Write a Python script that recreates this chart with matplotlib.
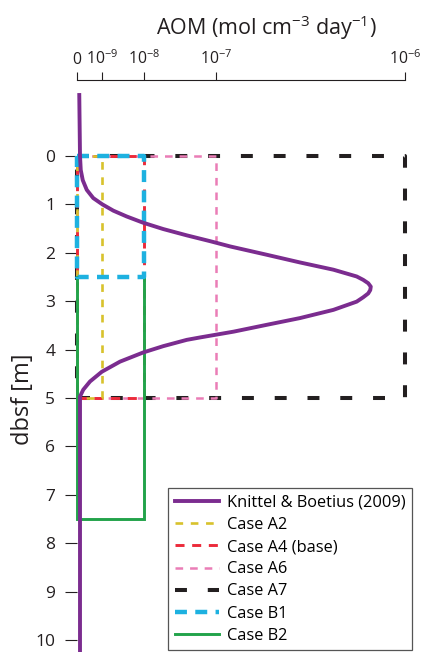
import numpy as np
import matplotlib
matplotlib.use("Agg")
import matplotlib.pyplot as plt
from matplotlib.lines import Line2D

plt.rcParams['font.family'] = ['Open Sans', 'DejaVu Sans']
plt.rcParams['mathtext.default'] = 'regular'
plt.rcParams['lines.scale_dashes'] = False

## data
# Knittel & Boetius (2009) profile: depth [m] and AOM rate
knittel_depth = [-1.3, 0.0, 0.29, 0.5, 0.70, 0.87, 1.0, 1.13, 1.25, 1.38, 1.51, 1.64,
                 1.76, 1.87, 2.04, 2.20, 2.35, 2.49, 2.56, 2.63, 2.70, 2.77, 2.84,
                 2.92, 3.01, 3.18, 3.35, 3.49, 3.63, 3.75, 3.80, 3.93, 4.06, 4.25,
                 4.46, 4.66, 4.83, 4.97, 10.3]
knittel_aom = [9e-11, 1.2e-10, 1.5e-10, 2.3e-10, 3.9e-10, 6.5e-10, 1.02e-9, 1.86e-9,
               3.87e-9, 9.6e-9, 1.85e-8, 3.92e-8, 8.26e-8, 1.19e-7, 1.85e-7, 2.78e-7,
               4.18e-7, 5.55e-7, 6.01e-7, 6.39e-7, 6.59e-7, 6.55e-7, 6.39e-7,
               6.01e-7, 5.55e-7, 4.18e-7, 2.78e-7, 1.85e-7, 1.24e-7, 6.0e-8, 3.92e-8,
               1.85e-8, 9.6e-9, 2.68e-9, 9.9e-10, 5.2e-10, 2.5e-10, 1.2e-10, 1.2e-10]

# constant-rate cases: rate, top and bottom of the AOM zone
case_labels = ['Case A2', 'Case A4 (base)', 'Case A6', 'Case A7', 'Case B1', 'Case B2']
case_rate = [1e-9, 1e-8, 1e-7, 1e-6, 1e-8, 1e-8]
case_top = [0, 0, 0, 0, 0, 2.5]
case_bottom = [5, 5, 5, 5, 2.5, 7.5]

xtick_vals = [0, 1e-9, 1e-8, 1e-7, 1e-6]
xtick_labels = ['0', '$10^{-9}$', '$10^{-8}$', '$10^{-7}$', '$10^{-6}$']
ytick_vals = list(range(0, 11))

## axis: linear from 0 to 1e-9, then uneven log segments (as in the original)
seg_log = [-9, -8, -7, -6]
seg_pos = [25, 67, 139, 328]

def fwd(x):
    x = np.asarray(x, dtype=float)
    lg = np.log10(np.maximum(x, 1e-30))
    return np.where(x <= 1e-9, x / 1e-9 * seg_pos[0], np.interp(lg, seg_log, seg_pos))

def inv(p):
    p = np.asarray(p, dtype=float)
    return np.where(p <= seg_pos[0], p / seg_pos[0] * 1e-9,
                    10 ** np.interp(p, seg_pos, seg_log))

# line styles (dashes in points)
styles = {
    'Case A2': dict(color='#d8c22c', lw=1.9, dashes=(5.5, 5.5)),
    'Case A4 (base)': dict(color='#ec2a3a', lw=2.1, dashes=(6.5, 5.5)),
    'Case A6': dict(color='#ea7db6', lw=1.8, dashes=(5.5, 5.0)),
    'Case A7': dict(color='#231f20', lw=2.9, dashes=(8.6, 15.0)),
    'Case B1': dict(color='#1db1e0', lw=3.2, dashes=(8.6, 6.0)),
    'Case B2': dict(color='#22a34a', lw=2.1),
}
draw_order = ['Case A7', 'Case A6', 'Case A4 (base)', 'Case A2', 'Case B2', 'Case B1']

fig = plt.figure(figsize=(4.24, 6.52), dpi=100)
ax = fig.add_axes([77 / 424, 0, 328 / 424, 1 - 80 / 652])
ax.set_xscale('function', functions=(fwd, inv))

for lab in draw_order:
    i = case_labels.index(lab)
    r, t, b = case_rate[i], case_top[i], case_bottom[i]
    if lab == 'Case B2':
        # open at the top (B1 sits right above it)
        xs, ys = [0, 0, r, r], [t, b, b, t]
    else:
        xs, ys = [0, r, r, 0, 0], [t, t, b, b, t]
    ax.plot(xs, ys, clip_on=False, solid_joinstyle='miter', **styles[lab])

ax.plot(knittel_aom, knittel_depth, color='#7b2c8f', lw=2.8, clip_on=False,
        solid_capstyle='butt', solid_joinstyle='round')

ax.set_xlim(0, 1e-6)
ax.set_ylim(10.25, -1.57)

ax.xaxis.tick_top()
ax.set_xticks(xtick_vals)
ax.set_xticklabels(xtick_labels)
ax.minorticks_off()
ax.set_yticks(ytick_vals)
ax.tick_params(axis='x', direction='out', length=5.8, width=0.8, pad=3,
               labelsize=11.3, colors='#231f20')
ax.tick_params(axis='y', direction='out', length=8.6, width=0.8, pad=7,
               labelsize=12.5, colors='#231f20')
for s in ['left', 'right', 'bottom']:
    ax.spines[s].set_visible(False)
ax.spines['top'].set_linewidth(0.8)
ax.spines['top'].set_color('#231f20')

fig.text(266 / 424, 1 - 28 / 652, r'AOM (mol cm$^{-3}$ day$^{-1}$)',
         ha='center', va='center', fontsize=15.5, color='#231f20')
fig.text(23 / 424, 1 - 399 / 652, 'dbsf [m]', rotation=90, ha='center',
         va='center', fontsize=17, color='#231f20')

handles = [Line2D([], [], color='#7b2c8f', lw=2.8)]
for lab in case_labels:
    handles.append(Line2D([], [], **styles[lab]))
leg = fig.legend(handles, ['Knittel & Boetius (2009)'] + case_labels,
                 loc='upper left', bbox_to_anchor=(168 / 424, 1 - 488 / 652),
                 fontsize=11.8, fancybox=False, framealpha=1, edgecolor='#555555',
                 handlelength=2.7, handletextpad=0.5, labelspacing=0.38,
                 borderpad=0.4, borderaxespad=0)
leg.get_frame().set_linewidth(0.9)

fig.savefig('out.png', dpi=100)
